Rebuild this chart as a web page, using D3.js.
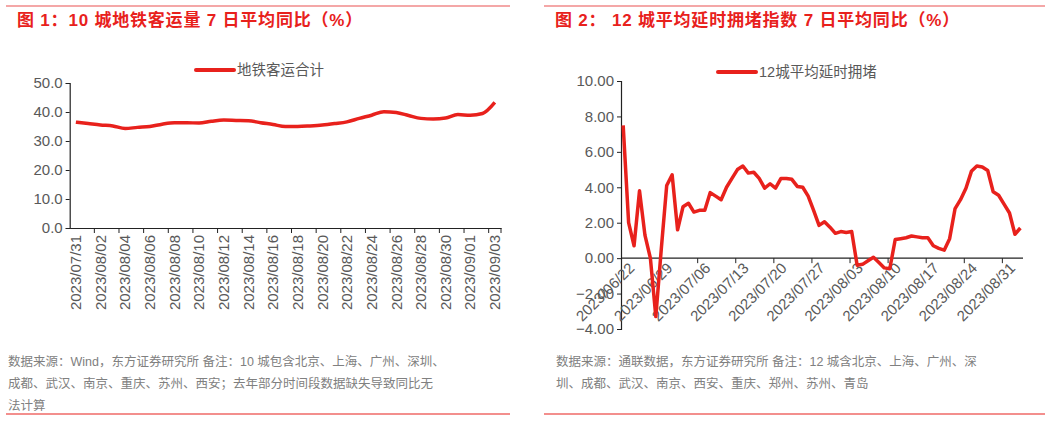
<!DOCTYPE html>
<html><head><meta charset="utf-8">
<script src="https://cdn.jsdelivr.net/npm/d3@7"></script>
<style>body{margin:0;background:#fff;font-family:"Liberation Sans","Noto Sans CJK SC",sans-serif}</style>
</head><body><svg id="c" width="1061" height="421"></svg>
<script>
const dates1 = ["07/31","08/01","08/02","08/03","08/04","08/05","08/06","08/07","08/08","08/09","08/10","08/11","08/12","08/13","08/14","08/15","08/16","08/17","08/18","08/19","08/20","08/21","08/22","08/23","08/24","08/25","08/26","08/27","08/28","08/29","08/30","08/31","09/01","09/02","09/03"].map(d=>"2023/"+d);
const metro = [36.5,36.0,35.5,35.2,34.3,34.7,35.0,35.8,36.3,36.3,36.2,36.8,37.2,37.1,37.0,36.3,35.7,35.0,35.0,35.2,35.5,36.0,36.6,37.8,38.9,40.1,39.8,38.8,37.8,37.6,37.9,39.1,38.9,39.5,43.3];
const yTicks1 = [0,10,20,30,40,50];
const congestion = [7.5,2.0,0.7,3.8,1.3,0.0,-3.3,0.5,4.1,4.7,1.6,2.9,3.1,2.6,2.7,2.7,3.7,3.5,3.3,4.0,4.5,5.0,5.2,4.8,4.85,4.5,3.95,4.2,3.95,4.5,4.5,4.45,4.05,4.0,3.5,2.7,1.85,2.05,1.75,1.4,1.5,1.45,1.5,-0.4,-0.35,-0.15,0.05,-0.25,-0.55,-0.6,1.05,1.1,1.15,1.25,1.2,1.15,1.15,0.7,0.55,0.45,1.1,2.8,3.3,3.95,4.9,5.2,5.15,4.95,3.75,3.55,3.05,2.55,1.35,1.7];
const tickLabels2 = ["2023/06/22","2023/06/29","2023/07/06","2023/07/13","2023/07/20","2023/07/27","2023/08/03","2023/08/10","2023/08/17","2023/08/24","2023/08/31"];
const yTicks2 = [-4,-2,0,2,4,6,8,10];

const svg = d3.select("#c");
const red="#e8211c", gray="#595959", tgray="#808080";
[[6,510],[544,1045]].forEach(([a,b])=>{
  svg.append("line").attr("x1",a).attr("x2",b).attr("y1",6).attr("y2",6).attr("stroke","#f08a8a").attr("stroke-width",1.5);
  svg.append("line").attr("x1",a).attr("x2",b).attr("y1",414).attr("y2",414).attr("stroke",red).attr("stroke-width",1.2);
});
svg.append("text").attr("x",17).attr("y",26).attr("fill",red).attr("font-size",17).attr("font-weight","bold").attr("letter-spacing",0.8).text("图 1：10 城地铁客运量 7 日平均同比（%）");
svg.append("text").attr("x",555).attr("y",26).attr("fill",red).attr("font-size",17).attr("font-weight","bold").attr("letter-spacing",0.8).text("图 2： 12 城平均延时拥堵指数 7 日平均同比（%）");
function notes(x,lines){lines.forEach((t,i)=>svg.append("text").attr("x",x).attr("y",366+i*22).attr("fill",tgray).attr("font-size",12.5).text(t));}
notes(8,["数据来源：Wind，东方证券研究所 备注：10 城包含北京、上海、广州、深圳、","成都、武汉、南京、重庆、苏州、西安；去年部分时间段数据缺失导致同比无","法计算"]);
notes(556,["数据来源：通联数据，东方证券研究所 备注：12 城含北京、上海、广州、深","圳、成都、武汉、南京、西安、重庆、郑州、苏州、青岛"]);
function legend(x,y,label){
  svg.append("line").attr("x1",x).attr("x2",x+38).attr("y1",y).attr("y2",y).attr("stroke",red).attr("stroke-width",4).attr("stroke-linecap","round");
  svg.append("text").attr("x",x+41).attr("y",y+5).attr("fill",gray).attr("font-size",14.5).text(label);
}
{
  const x = d3.scaleBand().domain(dates1).range([69.7,501]);
  const y = d3.scaleLinear().domain([0,50]).range([228,83]);
  const g = svg.append("g");
  const ya = g.append("g").attr("transform","translate(69.7,0)").call(d3.axisLeft(y).tickValues(yTicks1).tickFormat(d3.format(".1f")).tickSize(4));
  const xa = g.append("g").attr("transform","translate(0,228)").call(d3.axisBottom(x).tickSize(0));
  [ya,xa].forEach(a=>{a.select(".domain").attr("stroke","#222").attr("stroke-width",1.2);a.selectAll("text").attr("fill",gray).attr("font-size",15).attr("font-family","Liberation Sans");});
  ya.selectAll("line").attr("stroke","#222");
  xa.selectAll(".tick").filter((d,i)=>i%2!==0).remove();
  xa.selectAll("text").attr("transform","rotate(-90)").attr("text-anchor","end").attr("dx","-7").attr("dy","0.35em").attr("x",0).attr("y",0);
  dates1.forEach((d,i)=>{ if(i%2===0 && i>0) g.append("line").attr("x1",x(d)).attr("x2",x(d)).attr("y1",228).attr("y2",233).attr("stroke","#222"); });
  g.append("line").attr("x1",501).attr("x2",501).attr("y1",228).attr("y2",233).attr("stroke","#222");
  g.append("path").datum(metro).attr("fill","none").attr("stroke",red).attr("stroke-width",3.5)
   .attr("d",d3.line().x((d,i)=>x(dates1[i])+x.bandwidth()/2).y(d=>y(d)).curve(d3.curveMonotoneX));
  legend(196,70,"地铁客运合计");
}
{
  const x = d3.scaleLinear().domain([0,73.7]).range([621,1022]);
  const y = d3.scaleLinear().domain([-4,10]).range([329,81]);
  const g = svg.append("g");
  const ya = g.append("g").attr("transform","translate(621,0)").call(d3.axisLeft(y).tickValues(yTicks2).tickFormat(d3.format(".2f")).tickSize(4));
  const xa = g.append("g").attr("transform","translate(0,"+y(0)+")").call(d3.axisBottom(x).tickValues(d3.range(0,71,7)).tickFormat((d,i)=>tickLabels2[i]).tickSize(5).tickSizeOuter(0));
  [ya,xa].forEach(a=>{a.select(".domain").attr("stroke","#222").attr("stroke-width",1.2);a.selectAll("line").attr("stroke","#222");a.selectAll("text").attr("fill",gray).attr("font-size",15).attr("font-family","Liberation Sans");});
  xa.select(".domain").attr("d","M621,0H1023");
  xa.selectAll("text").attr("transform","rotate(-45)").attr("text-anchor","end").attr("dx","2").attr("dy","0.9em").attr("x",0).attr("y",4);
  g.append("path").datum(congestion).attr("fill","none").attr("stroke",red).attr("stroke-width",3.5).attr("stroke-linejoin","round")
   .attr("d",d3.line().x((d,i)=>x(i+0.4)).y(d=>y(d)));
  legend(718,72,"12城平均延时拥堵");
}
</script></body></html>
